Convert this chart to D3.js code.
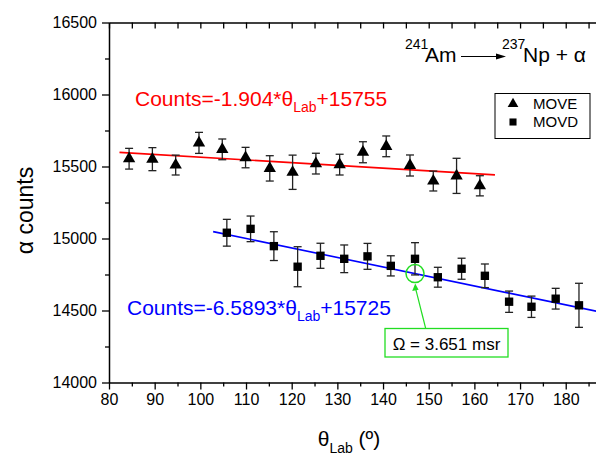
<!DOCTYPE html>
<html><head><meta charset="utf-8">
<script src="https://cdn.jsdelivr.net/npm/d3@7"></script>
<style>
html,body{margin:0;padding:0;background:#fff;}
svg{display:block;font-family:"Liberation Sans",Arial,sans-serif;}
</style></head>
<body>
<svg id="c" width="596" height="457"></svg>
<script>
// ---- data ----
const moveTheta  = [84.4, 89.5, 94.6, 99.7, 104.8, 109.9, 115.2, 120.2, 125.3, 130.5, 135.6, 140.7, 145.9, 151.0, 156.1, 161.2];
const moveCounts = [15554, 15551, 15510, 15664, 15619, 15562, 15487, 15460, 15520, 15513, 15599, 15640, 15507, 15399, 15435, 15366];
const moveErr    = [72, 80, 69, 73, 72, 71, 88, 119, 72, 72, 73, 72, 73, 69, 122, 70];

const movdTheta  = [105.8, 111.0, 116.1, 121.3, 126.3, 131.5, 136.6, 141.7, 147.0, 152.0, 157.2, 162.3, 167.6, 172.5, 177.8, 182.9];
const movdCounts = [15040, 15067, 14947, 14804, 14880, 14859, 14876, 14810, 14859, 14731, 14790, 14741, 14561, 14526, 14582, 14536];
const movdErr    = [93, 89, 100, 139, 87, 96, 90, 70, 112, 69, 73, 82, 74, 74, 72, 153];

const fitSlopes     = [-1.904, -6.5893];
const fitIntercepts = [15755, 15725];
const fitFrom       = [82.3, 102.8];
const fitTo         = [164.5, 190];
const fitColors     = ["#ff0000", "#0000ff"];

const xMajorTicks = [80, 90, 100, 110, 120, 130, 140, 150, 160, 170, 180];
const xMinorTicks = [85, 95, 105, 115, 125, 135, 145, 155, 165, 175, 185];
const yMajorTicks = [14000, 14500, 15000, 15500, 16000, 16500];
const yMinorTicks = [14250, 14750, 15250, 15750, 16250];
const solidAngleTheta = 147;

// ---- setup ----
const svg = d3.select("#c");
const x = d3.scaleLinear().domain([80, 190]).range([109, 611.4]);
const y = d3.scaleLinear().domain([14000, 16500]).range([382.5, 22.5]);
const font = '"Liberation Sans",Arial,sans-serif';

function styleAxis(g){
  g.selectAll(".domain").attr("stroke","#000").attr("stroke-width",1.5);
  g.selectAll(".tick line").attr("stroke","#000").attr("stroke-width",1.3);
  g.selectAll(".tick text").attr("fill","#000").attr("font-size",16).attr("font-family",font);
}

// bottom axis
svg.append("g").attr("transform",`translate(0,${y(14000)})`)
  .call(d3.axisBottom(x).tickValues(xMajorTicks).tickSize(7).tickSizeOuter(0).tickPadding(4).tickFormat(d3.format("d")))
  .call(styleAxis);
svg.append("g").attr("transform",`translate(0,${y(14000)})`)
  .call(d3.axisBottom(x).tickValues(xMinorTicks).tickSize(4).tickSizeOuter(0).tickFormat(""))
  .call(g=>{g.select(".domain").remove();}).call(styleAxis);
// top axis (inward ticks)
svg.append("g").attr("transform",`translate(0,${y(16500)})`)
  .call(d3.axisTop(x).tickValues(xMajorTicks.concat(xMinorTicks)).tickSize(-6).tickSizeOuter(0).tickFormat(""))
  .call(styleAxis);
// left axis
svg.append("g").attr("transform",`translate(${x(80)},0)`)
  .call(d3.axisLeft(y).tickValues(yMajorTicks).tickSize(7).tickSizeOuter(0).tickPadding(5).tickFormat(d3.format("d")))
  .call(styleAxis);
svg.append("g").attr("transform",`translate(${x(80)},0)`)
  .call(d3.axisLeft(y).tickValues(yMinorTicks).tickSize(4).tickSizeOuter(0).tickFormat(""))
  .call(g=>{g.select(".domain").remove();}).call(styleAxis);

// axis titles
const yt = svg.append("text").attr("transform",`translate(33,${(y(14000)+y(16500))/2 + 8}) rotate(-90)`)
  .attr("text-anchor","middle").attr("font-size",23).attr("fill","#000");
yt.text("α counts");

const xt = svg.append("text").attr("x",349).attr("y",446).attr("text-anchor","middle").attr("font-size",21).attr("fill","#000");
xt.append("tspan").text("θ");
xt.append("tspan").attr("font-size",14).attr("dy",7).text("Lab");
xt.append("tspan").attr("dy",-7).text(" (º)");

// fit lines
const fitIdx = d3.range(fitSlopes.length);
svg.append("g").selectAll("line").data(fitIdx).join("line")
  .attr("x1",i=>x(fitFrom[i])).attr("x2",i=>x(fitTo[i]))
  .attr("y1",i=>y(fitSlopes[i]*fitFrom[i]+fitIntercepts[i]))
  .attr("y2",i=>y(fitSlopes[i]*fitTo[i]+fitIntercepts[i]))
  .attr("stroke",i=>fitColors[i]).attr("stroke-width",1.6);

// error bars + markers
function drawSeries(thetas, counts, errs, symbol, size){
  const g = svg.append("g");
  const idx = d3.range(thetas.length);
  const eb = g.selectAll("g.eb").data(idx).join("g").attr("class","eb")
    .attr("stroke","#222").attr("stroke-width",1.3);
  eb.append("line").attr("x1",i=>x(thetas[i])).attr("x2",i=>x(thetas[i]))
    .attr("y1",i=>y(counts[i]-errs[i])).attr("y2",i=>y(counts[i]+errs[i]));
  eb.append("line").attr("x1",i=>x(thetas[i])-4).attr("x2",i=>x(thetas[i])+4)
    .attr("y1",i=>y(counts[i]+errs[i])).attr("y2",i=>y(counts[i]+errs[i]));
  eb.append("line").attr("x1",i=>x(thetas[i])-4).attr("x2",i=>x(thetas[i])+4)
    .attr("y1",i=>y(counts[i]-errs[i])).attr("y2",i=>y(counts[i]-errs[i]));
  g.selectAll("path.m").data(idx).join("path").attr("class","m")
    .attr("d",d3.symbol(symbol,size))
    .attr("transform",i=>`translate(${x(thetas[i])},${y(counts[i])})`)
    .attr("fill","#000");
}
drawSeries(moveTheta, moveCounts, moveErr, d3.symbolTriangle, 66);
drawSeries(movdTheta, movdCounts, movdErr, d3.symbolSquare, 70);

// fit formulas
function formula(xp, yp, color, pre, post){
  const t = svg.append("text").attr("x",xp).attr("y",yp).attr("font-size",21).attr("fill",color);
  t.append("tspan").text(pre);
  t.append("tspan").attr("font-size",14).attr("dy",6).text("Lab");
  t.append("tspan").attr("dy",-6).text(post);
}
formula(135, 106, fitColors[0], "Counts=" + fitSlopes[0].toFixed(3) + "*θ", "+" + fitIntercepts[0]);
formula(127, 315, fitColors[1], "Counts=" + fitSlopes[1].toFixed(4) + "*θ", "+" + fitIntercepts[1]);

// reaction annotation
const ra = svg.append("g").attr("fill","#000");
ra.append("text").attr("x",405).attr("y",49).attr("font-size",14).text("241");
ra.append("text").attr("x",425).attr("y",62).attr("font-size",21).text("Am");
ra.append("line").attr("x1",461).attr("x2",498).attr("y1",56.5).attr("y2",56.5).attr("stroke","#000").attr("stroke-width",1);
ra.append("path").attr("d","M496,53.5 L506,56.5 L496,59.5 Z");
ra.append("text").attr("x",502).attr("y",49).attr("font-size",14).text("237");
ra.append("text").attr("x",523).attr("y",62).attr("font-size",21).text("Np + α");

// legend
const lg = svg.append("g");
lg.append("rect").attr("x",495).attr("y",93.5).attr("width",95).attr("height",45)
  .attr("fill","#fff").attr("stroke","#000").attr("stroke-width",1);
lg.append("path").attr("d",d3.symbol(d3.symbolTriangle,50)).attr("transform","translate(513,104)");
lg.append("path").attr("d",d3.symbol(d3.symbolSquare,50)).attr("transform","translate(513,122)");
lg.append("text").attr("x",533).attr("y",109).attr("font-size",15).text("MOVE");
lg.append("text").attr("x",533).attr("y",127).attr("font-size",15).text("MOVD");

// solid angle annotation
const green = "#22dd22";
const cx = x(solidAngleTheta), cy = y(fitSlopes[1]*solidAngleTheta + fitIntercepts[1]);
svg.append("circle").attr("cx",cx).attr("cy",cy).attr("r",9).attr("fill","none").attr("stroke",green).attr("stroke-width",1.5);
svg.append("line").attr("x1",425.7).attr("y1",328.5).attr("x2",cx+0.6).attr("y2",cy+15)
  .attr("stroke",green).attr("stroke-width",1.2);
svg.append("path").attr("d",`M${cx+0.2},${cy+10} L${cx-2.8},${cy+17.5} L${cx+3.6},${cy+16.2} Z`).attr("fill",green);
svg.append("rect").attr("x",385).attr("y",328.5).attr("width",123).attr("height",28.5)
  .attr("fill","#fff").attr("stroke",green).attr("stroke-width",1.3);
svg.append("text").attr("x",446.5).attr("y",349.5).attr("text-anchor","middle").attr("font-size",17).attr("fill","#000").text("Ω = 3.651 msr");
</script>
</body></html>
